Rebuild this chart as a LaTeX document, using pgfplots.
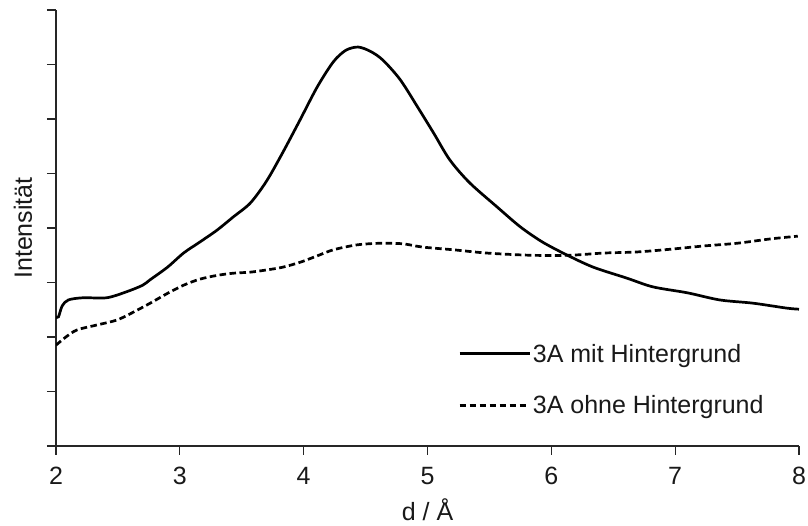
\documentclass[border=0pt]{standalone}
\usepackage{pgfplots}
\pgfplotsset{compat=1.18}
\usepackage{fontspec}
\setmainfont{Liberation Sans}
\begin{document}
\begin{tikzpicture}[x=1pt,y=1pt]
\useasboundingbox (0,0) rectangle (808,526);
\begin{axis}[
  at={(56pt,80pt)}, anchor=south west,
  scale only axis,
  width=743pt, height=436pt,
  xmin=2, xmax=8, ymin=0, ymax=8,
  axis x line=bottom, axis y line=left,
  axis line style={-, line width=1.3pt, black!85},
  xtick={2,3,4,5,6,7,8},
  ytick={0,1,2,3,4,5,6,7,8},
  yticklabels={},
  tick align=outside,
  major tick length=9pt,
  tick style={line width=1.3pt, black!85},
  /pgf/number format/assume math mode=true,
  font=\fontsize{25}{30}\selectfont,
  tick label style={font=\fontsize{25}{30}\selectfont, text=black!90},
  xticklabel style={yshift=-9pt},
  xlabel={d / Å},
  ylabel={Intensität},
  xlabel style={at={(axis description cs:0.5,0)}, anchor=base, inner sep=0pt, yshift=-75pt, text=black!90},
  ylabel style={at={(axis description cs:0,0.5)}, anchor=center, yshift=33pt, text=black!90},
  legend style={draw=none, fill=none, at={(0.537,0.2435)}, anchor=north west,
    font=\fontsize{25}{30}\selectfont, row sep=28pt, text=black!90},
  legend cell align=left,
  legend image code/.code={\draw[#1] (0pt,0pt) -- (70pt,0pt);},
]
\addplot[black, line width=2.7pt, smooth, tension=0.5] coordinates {
(2.00,2.37) (2.02,2.37) (2.05,2.57) (2.10,2.68) (2.22,2.72) (2.41,2.72)
(2.57,2.83) (2.70,2.95) (2.76,3.05) (2.90,3.28) (3.03,3.54) (3.16,3.74)
(3.30,3.96) (3.43,4.20) (3.57,4.46) (3.70,4.86) (3.83,5.38) (3.97,5.98)
(4.11,6.59) (4.24,7.05) (4.34,7.26) (4.44,7.32) (4.54,7.24) (4.64,7.08)
(4.78,6.72) (4.92,6.22) (5.05,5.74) (5.18,5.25) (5.34,4.83) (5.56,4.39)
(5.75,4.02) (5.93,3.74) (6.13,3.50) (6.34,3.28) (6.61,3.08) (6.82,2.92)
(7.10,2.81) (7.36,2.68) (7.63,2.62) (7.90,2.53) (8.00,2.51)
};
\addlegendentry{3A mit Hintergrund}
\addplot[black, line width=2.7pt, dash pattern=on 6.5pt off 3.5pt, smooth, tension=0.5] coordinates {
(2.00,1.85) (2.08,2.00) (2.17,2.13) (2.33,2.22) (2.49,2.31) (2.62,2.45)
(2.76,2.62) (2.90,2.80) (3.03,2.95) (3.16,3.06) (3.30,3.13) (3.43,3.17)
(3.57,3.19) (3.70,3.23) (3.83,3.28) (3.97,3.37) (4.10,3.48) (4.24,3.60)
(4.43,3.69) (4.62,3.72) (4.80,3.71) (4.96,3.65) (5.21,3.60) (5.48,3.54)
(5.83,3.50) (6.15,3.50) (6.42,3.54) (6.69,3.56) (6.96,3.61) (7.23,3.67)
(7.50,3.72) (7.77,3.80) (7.99,3.85)
};
\addlegendentry{3A ohne Hintergrund}
\end{axis}
\end{tikzpicture}
\end{document}
